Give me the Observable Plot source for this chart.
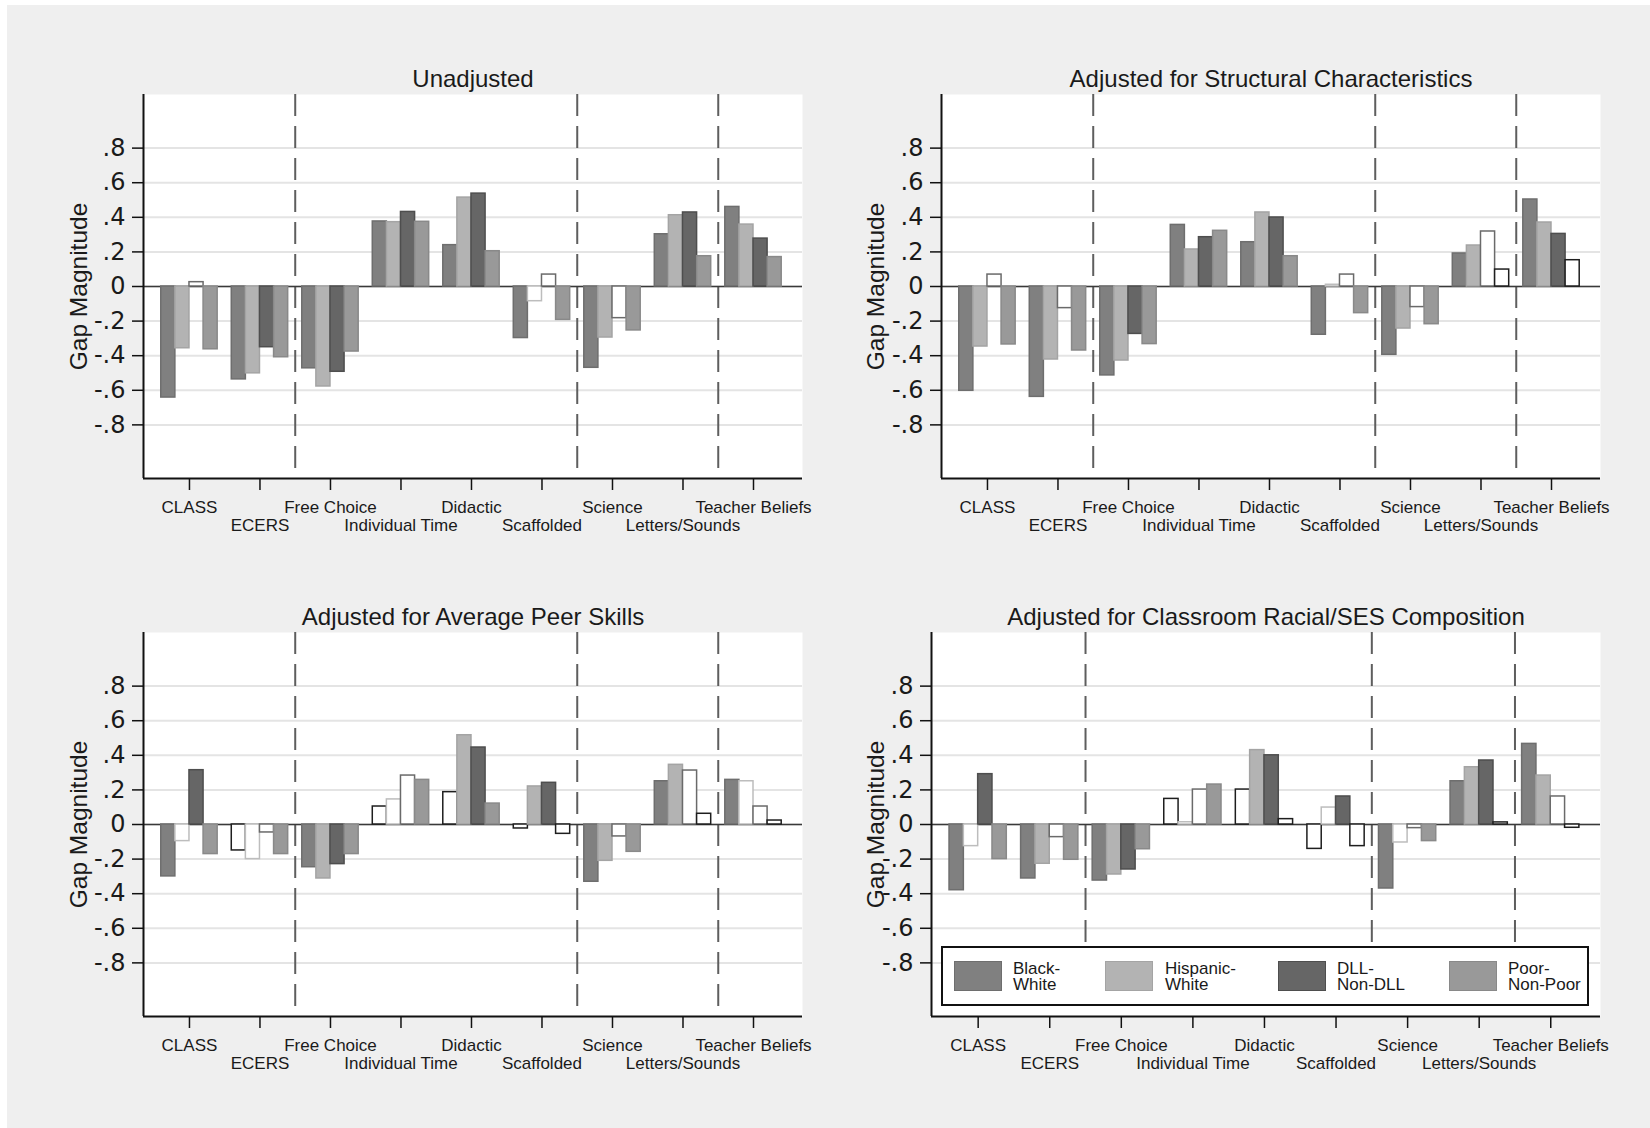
<!DOCTYPE html>
<html>
<head>
<meta charset="utf-8">
<script src="https://cdn.jsdelivr.net/npm/d3@7"></script>
<script src="https://cdn.jsdelivr.net/npm/@observablehq/plot@0.6"></script>
<style>
  html, body { margin: 0; padding: 0; background: #fff; }
  #page { position: relative; width: 1650px; height: 1128px; overflow: hidden; background: #fff;
          font-family: "Liberation Sans", Arial, Helvetica, sans-serif; color: #1a1a1a; }
  #bg { position: absolute; left: 7px; top: 5px; width: 1643px; height: 1123px; background: #efefef; }
  .panel { position: absolute; }
  #legend { position: absolute; left: 941px; top: 946px; width: 648px; height: 60px; box-sizing: border-box;
            border: 2px solid #111; background: #fff; }
  .sw { position: absolute; top: 13px; width: 48px; height: 30px; box-sizing: border-box; border: 1.5px solid; }
  .lt { position: absolute; top: 13px; font-size: 17px; line-height: 16px; white-space: nowrap; }
</style>
</head>
<body>
<div id="page"><div id="bg"></div></div>
<script>
// ---------- data ----------
const categories = ["CLASS", "ECERS", "Free Choice", "Individual Time", "Didactic",
                    "Scaffolded", "Science", "Letters/Sounds", "Teacher Beliefs"];
const seriesNames = ["Black-White", "Hispanic-White", "DLL-Non-DLL", "Poor-Non-Poor"];
const legendLines = [["Black-", "White"], ["Hispanic-", "White"], ["DLL-", "Non-DLL"], ["Poor-", "Non-Poor"]];
const panelTitles = ["Unadjusted", "Adjusted for Structural Characteristics",
                     "Adjusted for Average Peer Skills", "Adjusted for Classroom Racial/SES Composition"];
const yAxisLabel = "Gap Magnitude";
const yTicks = [-0.8, -0.6, -0.4, -0.2, 0, 0.2, 0.4, 0.6, 0.8];
const yTickLabels = ["-.8", "-.6", "-.4", "-.2", "0", ".2", ".4", ".6", ".8"];
const groupStarts = [2, 6, 8]; // first category of each new domain block (dashed separators before them)

// Unadjusted
const unadjBW  = [-0.642, -0.537, -0.473, 0.376, 0.239, -0.298, -0.470, 0.302, 0.460];
const unadjHW  = [-0.357, -0.502, -0.578, 0.372, 0.514, -0.085, -0.295, 0.412, 0.358];
const unadjDLL = [ 0.025, -0.351, -0.493, 0.431, 0.537,  0.069, -0.183, 0.428, 0.277];
const unadjPov = [-0.363, -0.409, -0.376, 0.374, 0.204, -0.193, -0.254, 0.175, 0.170];
const unadjNS  = [[2, 0], [1, 5], [2, 5], [2, 6]]; // [series, category] not significant (hollow)

// Adjusted for Structural Characteristics
const structBW  = [-0.603, -0.638, -0.514, 0.356, 0.256, -0.279, -0.395, 0.191, 0.503];
const structHW  = [-0.347, -0.422, -0.428, 0.214, 0.428,  0.010, -0.243, 0.237, 0.370];
const structDLL = [ 0.069, -0.125, -0.274, 0.285, 0.399,  0.069, -0.119, 0.318, 0.304];
const structPov = [-0.335, -0.370, -0.333, 0.322, 0.175, -0.154, -0.218, 0.098, 0.152];
const structNS  = [[2, 0], [2, 1], [1, 5], [2, 5], [2, 6], [2, 7], [3, 7], [3, 8]];

// Adjusted for Average Peer Skills
const peerBW  = [-0.300, -0.150, -0.247, 0.104, 0.187, -0.023, -0.331, 0.250, 0.258];
const peerHW  = [-0.096, -0.200, -0.312, 0.145, 0.516,  0.220, -0.210, 0.345, 0.250];
const peerDLL = [ 0.314, -0.046, -0.229, 0.283, 0.445,  0.241, -0.069, 0.312, 0.104];
const peerPov = [-0.171, -0.171, -0.171, 0.258, 0.121, -0.054, -0.158, 0.062, 0.023];
const peerNS  = [[1, 0], [0, 1], [1, 1], [2, 1], [0, 3], [1, 3], [2, 3], [0, 4], [0, 5], [3, 5],
                 [2, 6], [2, 7], [3, 7], [1, 8], [2, 8], [3, 8]];

// Adjusted for Classroom Racial/SES Composition
const compBW  = [-0.380, -0.312, -0.324, 0.148, 0.202, -0.141, -0.370, 0.250, 0.466];
const compHW  = [-0.125, -0.227, -0.289, 0.013, 0.430,  0.098, -0.104, 0.331, 0.283];
const compDLL = [ 0.291, -0.073, -0.260, 0.202, 0.400,  0.162, -0.021, 0.370, 0.162];
const compPov = [-0.200, -0.204, -0.143, 0.231, 0.031, -0.125, -0.096, 0.012, -0.019];
const compNS  = [[1, 0], [2, 1], [0, 3], [1, 3], [2, 3], [0, 4], [3, 4], [0, 5], [1, 5], [3, 5],
                 [1, 6], [2, 6], [3, 7], [2, 8], [3, 8]];

// ---------- styles ----------
const fills         = ["#808080", "#b3b3b3", "#666666", "#999999"];
const fillStrokes   = ["#6e6e6e", "#a4a4a4", "#4e4e4e", "#898989"];
const hollowStrokes = ["#1e1e1e", "#bdbdbd", "#6a6a6a", "#1e1e1e"];
const FONT = '"Liberation Sans", Arial, Helvetica, sans-serif';
const TICK_FONT = '"DejaVu Sans", "Liberation Sans", sans-serif';

const panels = [
  {title: panelTitles[0], series: [unadjBW, unadjHW, unadjDLL, unadjPov], ns: unadjNS,
   left: 0, top: 0, ml: 143, ydx: -64},
  {title: panelTitles[1], series: [structBW, structHW, structDLL, structPov], ns: structNS,
   left: 798, top: 0, ml: 143, ydx: -65},
  {title: panelTitles[2], series: [peerBW, peerHW, peerDLL, peerPov], ns: peerNS,
   left: 0, top: 538, ml: 143, ydx: -64},
  {title: panelTitles[3], series: [compBW, compHW, compDLL, compPov], ns: compNS,
   left: 798, top: 538, ml: 133, ydx: -55}
];

const X_DOMAIN = [-0.652, 8.695];
const Y_DOMAIN = [-1.11, 1.11];
const evenTicks = categories.map((_, i) => i).filter(i => i % 2 === 0);
const oddTicks  = categories.map((_, i) => i).filter(i => i % 2 === 1);
const nSeries = seriesNames.length;
const groupFrac = 0.8;              // share of a category step filled by its bars
const barW = groupFrac / nSeries;

function toRows(series, ns) {
  const rows = [];
  series.forEach((vals, s) => vals.forEach((v, c) => {
    const hollow = ns.some(([hs, hc]) => hs === s && hc === c);
    rows.push({c, s, v, hollow, name: seriesNames[s], cat: categories[c]});
  }));
  return rows;
}

const page = document.getElementById("page");

panels.forEach(p => {
  const rows = toRows(p.series, p.ns);
  const W = 825, H = 560;
  const chart = Plot.plot({
    width: W, height: H,
    marginTop: 94, marginBottom: 82, marginLeft: p.ml, marginRight: 23,
    x: {type: "linear", domain: X_DOMAIN, axis: null},
    y: {domain: Y_DOMAIN, axis: null},
    color: {type: "identity"},
    style: {background: "transparent", fontFamily: FONT, color: "#1a1a1a", overflow: "visible"},
    marks: [
      Plot.frame({fill: "white", stroke: "none"}),
      Plot.ruleY(yTicks, {stroke: "#e4e4e4", strokeWidth: 2}),
      Plot.ruleX(groupStarts, {x: d => d - 0.5, stroke: "#5e5e5e", strokeWidth: 2, strokeDasharray: "22,10"}),
      Plot.ruleY([0], {stroke: "#3a3a3a", strokeWidth: 1.5}),
      Plot.rectY(rows, {
        x1: d => d.c - groupFrac / 2 + barW * d.s,
        x2: d => d.c - groupFrac / 2 + barW * (d.s + 1),
        y1: 0, y2: "v",
        fill: d => d.hollow ? "white" : fills[d.s],
        stroke: d => d.hollow ? hollowStrokes[d.s] : fillStrokes[d.s],
        strokeWidth: 1.5
      }),
      Plot.axisY(yTicks, {tickSize: 11, tickPadding: 7, fontSize: 24, label: null,
        tickFormat: d => yTickLabels[yTicks.indexOf(d)], stroke: "#111", strokeWidth: 1.5}),
      Plot.axisX(evenTicks, {tickSize: 12, tickPadding: 10, fontSize: 17, label: null,
        tickFormat: i => categories[i], stroke: "#111", strokeWidth: 1.5}),
      Plot.axisX(oddTicks, {tickSize: 12, tickPadding: 28, fontSize: 17, label: null,
        tickFormat: i => categories[i], stroke: "#111", strokeWidth: 1.5}),
      Plot.ruleX([X_DOMAIN[0]], {stroke: "#111", strokeWidth: 2}),
      Plot.ruleY([Y_DOMAIN[0]], {stroke: "#111", strokeWidth: 2}),
      Plot.text([p.title], {text: d => d, frameAnchor: "top", dy: -25, fontSize: 24, textAnchor: "middle"}),
      Plot.text([yAxisLabel], {text: d => d, frameAnchor: "left", dx: p.ydx, rotate: -90,
        fontSize: 24.5, textAnchor: "middle"})
    ]
  });
  // y tick labels in the reference use wider glyphs
  d3.select(chart).selectAll("g[aria-label='y-axis tick label'] text").style("font-family", TICK_FONT);
  const div = document.createElement("div");
  div.className = "panel";
  div.style.left = p.left + "px";
  div.style.top = p.top + "px";
  div.appendChild(chart);
  page.appendChild(div);
});

// ---------- legend (inside the last panel) ----------
const legend = document.createElement("div");
legend.id = "legend";
const swLeft = [11, 162, 335, 506];
const txLeft = [70, 222, 394, 565];
legendLines.forEach((lines, s) => {
  const sw = document.createElement("div");
  sw.className = "sw";
  sw.style.left = swLeft[s] + "px";
  sw.style.background = fills[s];
  sw.style.borderColor = fillStrokes[s];
  legend.appendChild(sw);
  const tx = document.createElement("div");
  tx.className = "lt";
  tx.style.left = txLeft[s] + "px";
  tx.innerHTML = lines.join("<br>");
  legend.appendChild(tx);
});
page.appendChild(legend);
</script>
</body>
</html>
